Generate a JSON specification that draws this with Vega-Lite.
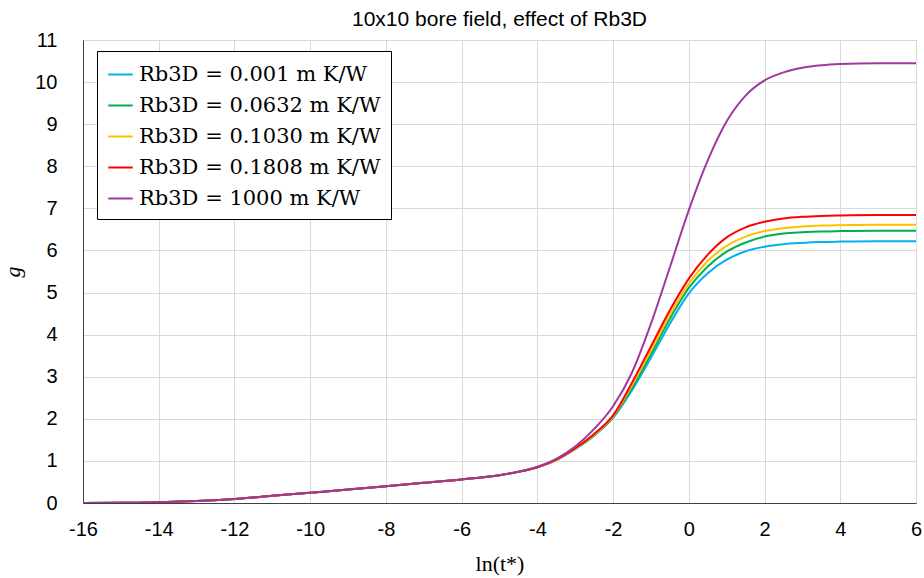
{
  "$schema": "https://vega.github.io/schema/vega-lite/v6.json",
  "width": 833,
  "height": 463,
  "autosize": {"type": "none"},
  "padding": {"left": 83, "top": 40, "right": 8, "bottom": 75},
  "background": "white",
  "title": {
    "text": "10x10 bore field, effect of Rb3D",
    "font": "Liberation Sans",
    "fontSize": 21,
    "fontWeight": "normal",
    "color": "#000000",
    "anchor": "middle",
    "frame": "group",
    "baseline": "bottom",
    "offset": -21
  },
  "config": {
    "view": {"stroke": "#404040", "strokeWidth": 1},
    "axis": {
      "labelFont": "Liberation Sans",
      "labelFontSize": 20,
      "labelColor": "#000000",
      "titleColor": "#000000",
      "gridColor": "#d9d9d9",
      "gridWidth": 1,
      "ticks": false,
      "domainColor": "#404040",
      "domainWidth": 1
    }
  },
  "datasets": {
    "curves": [
      {"x": -16, "g": 0.0, "s": "0.001"}, {"x": -15, "g": 0.003, "s": "0.001"}, {"x": -14, "g": 0.02, "s": "0.001"}, {"x": -13, "g": 0.05, "s": "0.001"}, {"x": -12, "g": 0.095, "s": "0.001"}, {"x": -11, "g": 0.17, "s": "0.001"}, {"x": -10, "g": 0.245, "s": "0.001"}, {"x": -9, "g": 0.32, "s": "0.001"}, {"x": -8, "g": 0.4, "s": "0.001"}, {"x": -7, "g": 0.48, "s": "0.001"}, {"x": -6, "g": 0.56, "s": "0.001"}, {"x": -5, "g": 0.66, "s": "0.001"}, {"x": -4.5, "g": 0.74, "s": "0.001"}, {"x": -4, "g": 0.85, "s": "0.001"}, {"x": -3.5, "g": 1.02, "s": "0.001"}, {"x": -3, "g": 1.28, "s": "0.001"}, {"x": -2.5, "g": 1.6, "s": "0.001"}, {"x": -2, "g": 2.02, "s": "0.001"}, {"x": -1.5, "g": 2.68, "s": "0.001"}, {"x": -1, "g": 3.45, "s": "0.001"}, {"x": -0.5, "g": 4.26, "s": "0.001"}, {"x": 0, "g": 4.98, "s": "0.001"}, {"x": 0.5, "g": 5.46, "s": "0.001"}, {"x": 1, "g": 5.78, "s": "0.001"}, {"x": 1.5, "g": 5.98, "s": "0.001"}, {"x": 2, "g": 6.09, "s": "0.001"}, {"x": 2.5, "g": 6.15, "s": "0.001"}, {"x": 3, "g": 6.18, "s": "0.001"}, {"x": 3.5, "g": 6.2, "s": "0.001"}, {"x": 4, "g": 6.21, "s": "0.001"}, {"x": 5, "g": 6.22, "s": "0.001"}, {"x": 6, "g": 6.22, "s": "0.001"},

      {"x": -16, "g": 0.0, "s": "0.0632"}, {"x": -15, "g": 0.003, "s": "0.0632"}, {"x": -14, "g": 0.02, "s": "0.0632"}, {"x": -13, "g": 0.05, "s": "0.0632"}, {"x": -12, "g": 0.095, "s": "0.0632"}, {"x": -11, "g": 0.17, "s": "0.0632"}, {"x": -10, "g": 0.245, "s": "0.0632"}, {"x": -9, "g": 0.32, "s": "0.0632"}, {"x": -8, "g": 0.4, "s": "0.0632"}, {"x": -7, "g": 0.48, "s": "0.0632"}, {"x": -6, "g": 0.56, "s": "0.0632"}, {"x": -5, "g": 0.66, "s": "0.0632"}, {"x": -4.5, "g": 0.74, "s": "0.0632"}, {"x": -4, "g": 0.85, "s": "0.0632"}, {"x": -3.5, "g": 1.02, "s": "0.0632"}, {"x": -3, "g": 1.29, "s": "0.0632"}, {"x": -2.5, "g": 1.61, "s": "0.0632"}, {"x": -2, "g": 2.04, "s": "0.0632"}, {"x": -1.5, "g": 2.74, "s": "0.0632"}, {"x": -1, "g": 3.54, "s": "0.0632"}, {"x": -0.5, "g": 4.38, "s": "0.0632"}, {"x": 0, "g": 5.11, "s": "0.0632"}, {"x": 0.5, "g": 5.62, "s": "0.0632"}, {"x": 1, "g": 5.97, "s": "0.0632"}, {"x": 1.5, "g": 6.19, "s": "0.0632"}, {"x": 2, "g": 6.33, "s": "0.0632"}, {"x": 2.5, "g": 6.4, "s": "0.0632"}, {"x": 3, "g": 6.43, "s": "0.0632"}, {"x": 3.5, "g": 6.45, "s": "0.0632"}, {"x": 4, "g": 6.46, "s": "0.0632"}, {"x": 5, "g": 6.47, "s": "0.0632"}, {"x": 6, "g": 6.47, "s": "0.0632"},

      {"x": -16, "g": 0.0, "s": "0.1030"}, {"x": -15, "g": 0.003, "s": "0.1030"}, {"x": -14, "g": 0.02, "s": "0.1030"}, {"x": -13, "g": 0.05, "s": "0.1030"}, {"x": -12, "g": 0.095, "s": "0.1030"}, {"x": -11, "g": 0.17, "s": "0.1030"}, {"x": -10, "g": 0.245, "s": "0.1030"}, {"x": -9, "g": 0.32, "s": "0.1030"}, {"x": -8, "g": 0.4, "s": "0.1030"}, {"x": -7, "g": 0.48, "s": "0.1030"}, {"x": -6, "g": 0.56, "s": "0.1030"}, {"x": -5, "g": 0.66, "s": "0.1030"}, {"x": -4.5, "g": 0.74, "s": "0.1030"}, {"x": -4, "g": 0.85, "s": "0.1030"}, {"x": -3.5, "g": 1.02, "s": "0.1030"}, {"x": -3, "g": 1.29, "s": "0.1030"}, {"x": -2.5, "g": 1.62, "s": "0.1030"}, {"x": -2, "g": 2.06, "s": "0.1030"}, {"x": -1.5, "g": 2.8, "s": "0.1030"}, {"x": -1, "g": 3.62, "s": "0.1030"}, {"x": -0.5, "g": 4.47, "s": "0.1030"}, {"x": 0, "g": 5.21, "s": "0.1030"}, {"x": 0.5, "g": 5.75, "s": "0.1030"}, {"x": 1, "g": 6.11, "s": "0.1030"}, {"x": 1.5, "g": 6.33, "s": "0.1030"}, {"x": 2, "g": 6.46, "s": "0.1030"}, {"x": 2.5, "g": 6.53, "s": "0.1030"}, {"x": 3, "g": 6.57, "s": "0.1030"}, {"x": 3.5, "g": 6.59, "s": "0.1030"}, {"x": 4, "g": 6.6, "s": "0.1030"}, {"x": 5, "g": 6.61, "s": "0.1030"}, {"x": 6, "g": 6.61, "s": "0.1030"},

      {"x": -16, "g": 0.0, "s": "0.1808"}, {"x": -15, "g": 0.003, "s": "0.1808"}, {"x": -14, "g": 0.02, "s": "0.1808"}, {"x": -13, "g": 0.05, "s": "0.1808"}, {"x": -12, "g": 0.095, "s": "0.1808"}, {"x": -11, "g": 0.17, "s": "0.1808"}, {"x": -10, "g": 0.245, "s": "0.1808"}, {"x": -9, "g": 0.32, "s": "0.1808"}, {"x": -8, "g": 0.4, "s": "0.1808"}, {"x": -7, "g": 0.48, "s": "0.1808"}, {"x": -6, "g": 0.56, "s": "0.1808"}, {"x": -5, "g": 0.66, "s": "0.1808"}, {"x": -4.5, "g": 0.74, "s": "0.1808"}, {"x": -4, "g": 0.85, "s": "0.1808"}, {"x": -3.5, "g": 1.03, "s": "0.1808"}, {"x": -3, "g": 1.3, "s": "0.1808"}, {"x": -2.5, "g": 1.64, "s": "0.1808"}, {"x": -2, "g": 2.08, "s": "0.1808"}, {"x": -1.5, "g": 2.86, "s": "0.1808"}, {"x": -1, "g": 3.72, "s": "0.1808"}, {"x": -0.5, "g": 4.58, "s": "0.1808"}, {"x": 0, "g": 5.33, "s": "0.1808"}, {"x": 0.5, "g": 5.9, "s": "0.1808"}, {"x": 1, "g": 6.31, "s": "0.1808"}, {"x": 1.5, "g": 6.55, "s": "0.1808"}, {"x": 2, "g": 6.68, "s": "0.1808"}, {"x": 2.5, "g": 6.76, "s": "0.1808"}, {"x": 3, "g": 6.8, "s": "0.1808"}, {"x": 3.5, "g": 6.82, "s": "0.1808"}, {"x": 4, "g": 6.83, "s": "0.1808"}, {"x": 5, "g": 6.84, "s": "0.1808"}, {"x": 6, "g": 6.84, "s": "0.1808"},

      {"x": -16, "g": 0.0, "s": "1000"}, {"x": -15, "g": 0.003, "s": "1000"}, {"x": -14, "g": 0.02, "s": "1000"}, {"x": -13, "g": 0.05, "s": "1000"}, {"x": -12, "g": 0.095, "s": "1000"}, {"x": -11, "g": 0.17, "s": "1000"}, {"x": -10, "g": 0.245, "s": "1000"}, {"x": -9, "g": 0.32, "s": "1000"}, {"x": -8, "g": 0.4, "s": "1000"}, {"x": -7, "g": 0.48, "s": "1000"}, {"x": -6, "g": 0.56, "s": "1000"}, {"x": -5, "g": 0.66, "s": "1000"}, {"x": -4.5, "g": 0.74, "s": "1000"}, {"x": -4, "g": 0.86, "s": "1000"}, {"x": -3.5, "g": 1.05, "s": "1000"}, {"x": -3, "g": 1.34, "s": "1000"}, {"x": -2.5, "g": 1.76, "s": "1000"}, {"x": -2, "g": 2.3, "s": "1000"}, {"x": -1.5, "g": 3.1, "s": "1000"}, {"x": -1, "g": 4.26, "s": "1000"}, {"x": -0.5, "g": 5.6, "s": "1000"}, {"x": 0, "g": 6.96, "s": "1000"}, {"x": 0.5, "g": 8.14, "s": "1000"}, {"x": 1, "g": 9.07, "s": "1000"}, {"x": 1.5, "g": 9.68, "s": "1000"}, {"x": 2, "g": 10.04, "s": "1000"}, {"x": 2.5, "g": 10.23, "s": "1000"}, {"x": 3, "g": 10.34, "s": "1000"}, {"x": 3.5, "g": 10.4, "s": "1000"}, {"x": 4, "g": 10.43, "s": "1000"}, {"x": 5, "g": 10.45, "s": "1000"}, {"x": 6, "g": 10.45, "s": "1000"}
    ]
  },
  "data": {"name": "curves"},
  "mark": {"type": "line", "strokeWidth": 2, "interpolate": "monotone", "clip": true},
  "encoding": {
    "x": {
      "field": "x",
      "type": "quantitative",
      "scale": {"domain": [-16, 6], "nice": false, "zero": false},
      "axis": {
        "values": [-16, -14, -12, -10, -8, -6, -4, -2, 0, 2, 4, 6],
        "labelExpr": "datum.value < 0 ? '-' + abs(datum.value) : '' + datum.value",
        "labelFlush": false,
        "labelPadding": 16,
        "title": "ln(t*)",
        "titleFont": "Liberation Serif",
        "titleFontSize": 22,
        "titleFontWeight": "normal",
        "titlePadding": 14
      }
    },
    "y": {
      "field": "g",
      "type": "quantitative",
      "scale": {"domain": [0, 11], "nice": false},
      "axis": {
        "values": [0, 1, 2, 3, 4, 5, 6, 7, 8, 9, 10, 11],
        "labelPadding": 26,
        "title": "g",
        "titleFont": "Liberation Serif",
        "titleFontStyle": "italic",
        "titleFontSize": 22,
        "titleFontWeight": "normal",
        "titlePadding": 10
      }
    },
    "color": {
      "field": "s",
      "type": "nominal",
      "sort": ["0.001", "0.0632", "0.1030", "0.1808", "1000"],
      "scale": {
        "domain": ["0.001", "0.0632", "0.1030", "0.1808", "1000"],
        "range": ["#00B0F0", "#00B050", "#FFC000", "#FF0000", "#9E3A9E"]
      },
      "legend": {
        "title": null,
        "orient": "none",
        "legendX": 14,
        "legendY": 11,
        "labelExpr": "'Rb3D = ' + datum.label + ' m K/W'",
        "labelFont": "DejaVu Serif",
        "labelFontSize": 21,
        "labelColor": "#000000",
        "symbolType": "stroke",
        "symbolStrokeWidth": 2,
        "symbolSize": 600,
        "rowPadding": 7,
        "labelOffset": 5,
        "strokeColor": "#000000",
        "fillColor": "white",
        "padding": 10,
        "labelLimit": 400
      }
    }
  }
}
